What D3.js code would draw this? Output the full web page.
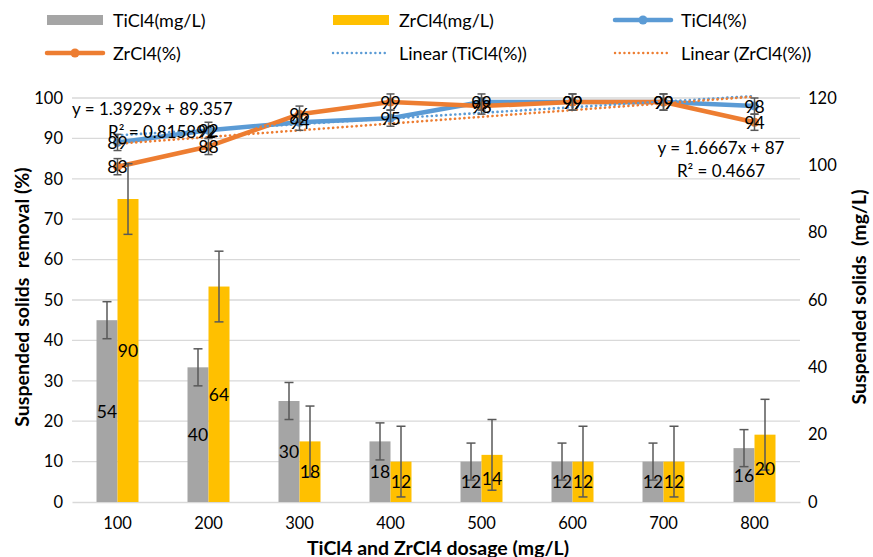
<!DOCTYPE html>
<html><head><meta charset="utf-8">
<script src="https://cdn.jsdelivr.net/npm/d3@7"></script>
<style>
body{margin:0;background:#fff}
text{font-family:Lato,'Liberation Sans',sans-serif;fill:#000;white-space:pre}
</style>
</head><body>
<svg id="chart" width="873" height="557"></svg>
<script>
// ---- data ----
const categories = ["100","200","300","400","500","600","700","800"];
const ticl4Conc = [54,40,30,18,12,12,12,16];          // mg/L (right axis)
const zrcl4Conc = [90,64,18,12,14,12,12,20];          // mg/L (right axis)
const ticl4ConcErr = [5.5,5.5,5.5,5.5,5.5,5.5,5.5,5.5];
const zrcl4ConcErr = [10.5,10.5,10.5,10.5,10.5,10.5,10.5,10.5];
const ticl4Pct = [89,92,94,95,99,99,99,98];           // % (left axis)
const zrcl4Pct = [83,88,96,99,98,99,99,94];           // % (left axis)
const ticl4PctErr = [2,2,2,2,2,2,2,2];
const zrcl4PctErr = [2,2,2,2,2,2,2,2];
const trendSlopes = [1.3929,1.6667];
const trendIntercepts = [89.357,87];
const trendR2 = ["0.815892","0.4667"];
const leftTicks = [0,10,20,30,40,50,60,70,80,90,100];
const rightTicks = [0,20,40,60,80,100,120];
const legendLabels = ["TiCl4(mg/L)","ZrCl4(mg/L)","TiCl4(%)","ZrCl4(%)","Linear (TiCl4(%))","Linear (ZrCl4(%))"];

const C = {grey:"#A5A5A5", yellow:"#FFC000", blue:"#5B9BD5", orange:"#ED7D31", grid:"#D9D9D9", err:"#595959"};

const svg = d3.select("#chart");
const L = 72, R = 800, T = 98, B = 502;
const x = d3.scaleBand().domain(categories).range([L,R]);
const yL = d3.scaleLinear().domain([0,100]).range([B,T]);
const yR = d3.scaleLinear().domain([0,120]).range([B,T]);
const cx = c => x(c) + x.bandwidth()/2;

// gridlines
svg.append("g").selectAll("line").data(leftTicks.slice(1)).join("line")
  .attr("x1",L).attr("x2",R).attr("y1",d=>yL(d)).attr("y2",d=>yL(d))
  .attr("stroke",C.grid).attr("stroke-width",1.3);

// axes
const axL = svg.append("g").attr("transform",`translate(${L},0)`)
  .call(d3.axisLeft(yL).tickValues(leftTicks).tickSize(0).tickPadding(9));
axL.select(".domain").remove();
const axR = svg.append("g").attr("transform",`translate(${R},0)`)
  .call(d3.axisRight(yR).tickValues(rightTicks).tickSize(0).tickPadding(8));
axR.select(".domain").remove();
const axB = svg.append("g").attr("transform",`translate(0,${B})`)
  .call(d3.axisBottom(x).tickSize(0).tickPadding(15));
axB.select(".domain").attr("stroke",C.grid).attr("stroke-width",1.5);
svg.selectAll(".tick text").attr("font-size",16.5).attr("fill","#000")
  .style("font-family","Lato,'Liberation Sans',sans-serif");

// bars
const barW = 21;
const barSeries = [
  {vals:ticl4Conc, err:ticl4ConcErr, color:C.grey, off:-barW},
  {vals:zrcl4Conc, err:zrcl4ConcErr, color:C.yellow, off:0}
];
barSeries.forEach(s=>{
  svg.append("g").selectAll("rect").data(categories).join("rect")
    .attr("x",c=>cx(c)+s.off).attr("width",barW)
    .attr("y",(c,i)=>yR(s.vals[i])).attr("height",(c,i)=>B-yR(s.vals[i]))
    .attr("fill",s.color);
});

// lines
const lineSeries = [
  {vals:ticl4Pct, err:ticl4PctErr, color:C.blue},
  {vals:zrcl4Pct, err:zrcl4PctErr, color:C.orange}
];
const lineGen = d3.line().x(d=>d[0]).y(d=>d[1]);
lineSeries.forEach(s=>{
  const pts = categories.map((c,i)=>[cx(c), yL(s.vals[i])]);
  svg.append("path").attr("d",lineGen(pts)).attr("fill","none")
    .attr("stroke",s.color).attr("stroke-width",4.5).attr("stroke-linejoin","round");
  svg.append("g").selectAll("circle").data(pts).join("circle")
    .attr("cx",d=>d[0]).attr("cy",d=>d[1]).attr("r",4.5).attr("fill",s.color);
});

// trend lines
[C.blue, C.orange].forEach((col,k)=>{
  const pts = [1, categories.length].map(n=>[cx(categories[n-1]), yL(trendSlopes[k]*n+trendIntercepts[k])]);
  svg.append("path").attr("d",lineGen(pts)).attr("fill","none")
    .attr("stroke",col).attr("stroke-width",2.6).attr("stroke-dasharray","0.1,4.6")
    .attr("stroke-linecap","round");
});

// error bars
function errBars(xs, lo, hi, cap){
  const g = svg.append("g").attr("stroke",C.err).attr("stroke-width",1.5);
  xs.forEach((xv,i)=>{
    g.append("line").attr("x1",xv).attr("x2",xv).attr("y1",lo[i]).attr("y2",hi[i]);
    g.append("line").attr("x1",xv-cap/2).attr("x2",xv+cap/2).attr("y1",lo[i]).attr("y2",lo[i]);
    g.append("line").attr("x1",xv-cap/2).attr("x2",xv+cap/2).attr("y1",hi[i]).attr("y2",hi[i]);
  });
}
barSeries.forEach(s=>{
  errBars(categories.map(c=>cx(c)+s.off+barW/2),
    s.vals.map((v,i)=>yR(v-s.err[i])), s.vals.map((v,i)=>yR(v+s.err[i])), 9);
});
lineSeries.forEach(s=>{
  errBars(categories.map(c=>cx(c)),
    s.vals.map((v,i)=>yL(v-s.err[i])), s.vals.map((v,i)=>yL(v+s.err[i])), 8);
});

// data labels
barSeries.forEach(s=>{
  svg.append("g").selectAll("text").data(categories).join("text")
    .attr("x",c=>cx(c)+s.off+barW/2).attr("y",(c,i)=>(yR(s.vals[i])+B)/2)
    .attr("text-anchor","middle").attr("dominant-baseline","central")
    .attr("font-size",17.5).text((c,i)=>s.vals[i]);
});
lineSeries.forEach(s=>{
  svg.append("g").selectAll("text").data(categories).join("text")
    .attr("x",c=>cx(c)).attr("y",(c,i)=>yL(s.vals[i]))
    .attr("text-anchor","middle").attr("dominant-baseline","central")
    .attr("font-size",17.5).text((c,i)=>s.vals[i]);
});

// trend equations
const fmtEq = k => `y = ${trendSlopes[k]}x + ${trendIntercepts[k]}`;
svg.append("text").attr("x",72).attr("y",108).attr("dominant-baseline","central")
  .attr("font-size",17).text(fmtEq(0));
svg.append("text").attr("x",108).attr("y",131).attr("dominant-baseline","central")
  .attr("font-size",17).text(`R² = ${trendR2[0]}`);
svg.append("text").attr("x",721).attr("y",147).attr("text-anchor","middle").attr("dominant-baseline","central")
  .attr("font-size",17).text(fmtEq(1));
svg.append("text").attr("x",721).attr("y",170).attr("text-anchor","middle").attr("dominant-baseline","central")
  .attr("font-size",17).text(`R² = ${trendR2[1]}`);

// axis titles
svg.append("text").attr("transform","translate(21,297) rotate(-90)")
  .attr("text-anchor","middle").attr("dominant-baseline","central")
  .attr("font-size",19.5).attr("font-weight","bold").text("Suspended solids  removal (%)");
svg.append("text").attr("transform","translate(858,297) rotate(-90)")
  .attr("text-anchor","middle").attr("dominant-baseline","central")
  .attr("font-size",19.5).attr("font-weight","bold").text("Suspended solids  (mg/L)");
svg.append("text").attr("x",438).attr("y",547)
  .attr("text-anchor","middle").attr("dominant-baseline","central")
  .attr("font-size",19.5).attr("font-weight","bold").text("TiCl4 and ZrCl4 dosage (mg/L)");

// legend
const legCols = [47,333,615], legRows = [20,53];
const legTypes = [
  {t:"bar",c:C.grey},{t:"bar",c:C.yellow},{t:"line",c:C.blue},
  {t:"line",c:C.orange},{t:"dot",c:C.blue},{t:"dot",c:C.orange}
];
legTypes.forEach((d,i)=>{
  const lx = legCols[i%3], ly = legRows[Math.floor(i/3)];
  const g = svg.append("g");
  if(d.t==="bar"){
    g.append("rect").attr("x",lx).attr("y",ly-5).attr("width",56).attr("height",10).attr("fill",d.c);
  } else if(d.t==="line"){
    g.append("line").attr("x1",lx).attr("x2",lx+56).attr("y1",ly).attr("y2",ly)
      .attr("stroke",d.c).attr("stroke-width",4.5).attr("stroke-linecap","round");
    g.append("circle").attr("cx",lx+28).attr("cy",ly).attr("r",4.5).attr("fill",d.c);
  } else {
    g.append("line").attr("x1",lx).attr("x2",lx+56).attr("y1",ly).attr("y2",ly)
      .attr("stroke",d.c).attr("stroke-width",2.4).attr("stroke-dasharray","0.1,4.6")
      .attr("stroke-linecap","round");
  }
  g.append("text").attr("x",lx+66).attr("y",ly).attr("dominant-baseline","central")
    .attr("font-size",18).text(legendLabels[i]);
});
</script>
</body></html>
